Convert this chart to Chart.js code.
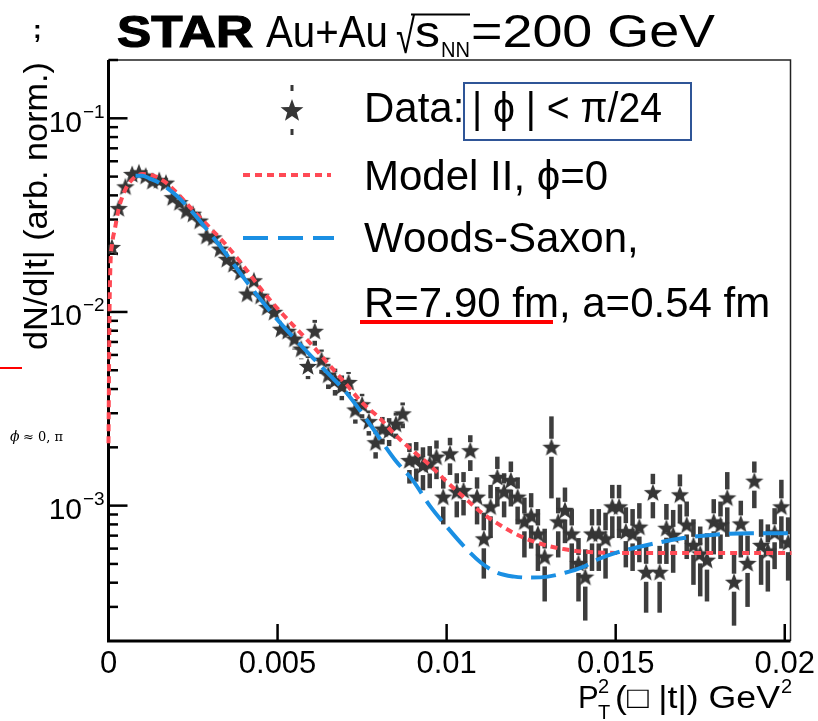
<!DOCTYPE html>
<html>
<head>
<meta charset="utf-8">
<script src="https://cdn.jsdelivr.net/npm/chart.js@4.4.1/dist/chart.umd.min.js"></script>
<style>
html,body{margin:0;padding:0;background:#fff;overflow:hidden}
#wrap{position:relative;width:818px;height:721px}
canvas{display:block}
</style>
</head>
<body>
<div id="wrap"><canvas id="c" width="818" height="721"></canvas></div>
<script>
// ---- data ----
const ptSquared = [
0.0001,0.0003,0.0005,0.0007,0.0009,0.0011,0.0013,0.0015,0.0017,0.0019,
0.0021,0.0023,0.0025,0.0027,0.0029,0.0031,0.0033,0.0035,0.0037,0.0039,
0.0041,0.0043,0.0045,0.0047,0.0049,0.0051,0.0053,0.0055,0.0057,0.0059,
0.0061,0.0063,0.0065,0.0067,0.0069,0.0071,0.0073,0.0075,0.0077,0.0079,
0.0081,0.0083,0.0085,0.0087,0.0089,0.0091,0.0093,0.0095,0.0097,0.0099,
0.0101,0.0103,0.0105,0.0107,0.0109,0.0111,0.0113,0.0115,0.0117,0.0119,
0.0121,0.0123,0.0125,0.0127,0.0129,0.0131,0.0133,0.0135,0.0137,0.0139,
0.0141,0.0143,0.0145,0.0147,0.0149,0.0151,0.0153,0.0155,0.0157,0.0159,
0.0161,0.0163,0.0165,0.0167,0.0169,0.0171,0.0173,0.0175,0.0177,0.0179,
0.0181,0.0183,0.0185,0.0187,0.0189,0.0191,0.0193,0.0195,0.0197,0.0199,
0.0201];
const dNdt = [
0.0214,0.034,0.044,0.051,0.052,0.050,0.047,0.0475,0.046,0.0387,
0.0365,0.033,0.0318,0.0293,0.0245,0.024,0.021,0.0186,0.0175,0.0159,
0.0123,0.0144,0.012,0.0105,0.0099,0.0081,0.0079,0.0072,0.0064,0.0052,
0.0079,0.0056,0.0047,0.0044,0.0041,0.0043,0.0031,0.0033,0.0027,0.0021,
0.00247,0.00243,0.00262,0.00296,0.0017,0.00173,0.0016,0.00163,0.00177,0.0011,
0.00184,0.00117,0.00119,0.00191,0.0011,0.00067,0.00098,0.00139,0.00117,0.00134,
0.0011,0.00082,0.00088,0.00071,0.00054,0.00199,0.00082,0.00094,0.00071,0.0005,
0.000425,0.00071,0.00071,0.00067,0.00098,0.00098,0.00073,0.00071,0.00077,0.00045,
0.00116,0.00045,0.00076,0.0007,0.00113,0.00079,0.00062,0.00056,0.00052,0.00082,
0.00079,0.00109,0.0004,0.0008,0.0005,0.00133,0.00062,0.00058,0.00072,0.00098,
0.00064];
const dNdtErr = [
0.0008,0.001,0.0012,0.0013,0.0013,0.0013,0.0012,0.0012,0.0012,0.0011,
0.0011,0.001,0.001,0.001,0.0009,0.0009,0.0009,0.0008,0.0008,0.0008,
0.0008,0.0009,0.0008,0.0008,0.0008,0.0008,0.0008,0.0008,0.0007,0.0007,
0.0012,0.0008,0.0007,0.0007,0.0006,0.0006,0.00045,0.00048,0.0004,0.00035,
0.0004,0.0004,0.0004,0.00045,0.0004,0.0004,0.0004,0.0004,0.0004,0.0003,
0.0004,0.0003,0.0003,0.0004,0.0003,0.00025,0.0003,0.0004,0.0003,0.00035,
0.0003,0.00028,0.00028,0.00025,0.00022,0.0009,0.00028,0.0003,0.00025,0.00018,
0.00017,0.00025,0.00025,0.00025,0.0003,0.0003,0.00025,0.00025,0.00026,0.00017,
0.0003,0.00017,0.00026,0.00025,0.00032,0.00026,0.00023,0.00022,0.0002,0.00026,
0.00026,0.0004,0.00016,0.00026,0.0002,0.00036,0.00023,0.00022,0.00025,0.00038,
0.00023];
const modelIIx = [0,0.00003,0.00006,0.0001,0.0002,0.0003,0.0004,0.0005,0.0006,0.0008,0.001,0.0012,0.0014,0.0017,0.002,0.0025,0.003,0.0035,0.004,0.0045,0.005,0.0055,0.006,0.0065,0.007,0.0075,0.008,0.0085,0.009,0.0095,0.01,0.0105,0.011,0.0115,0.012,0.0125,0.013,0.0135,0.014,0.015,0.016,0.018,0.0202];
const modelIIy = [0.0021,0.010,0.018,0.022,0.0275,0.034,0.039,0.043,0.046,0.050,0.0515,0.0512,0.050,0.0465,0.0415,0.0335,0.0272,0.022,0.0172,0.0132,0.0104,0.0084,0.0068,0.0054,0.0043,0.0034,0.00285,0.0023,0.00192,0.00162,0.00133,0.00111,0.00093,0.00081,0.00072,0.00066,0.00062,0.000595,0.00058,0.00057,0.00057,0.00057,0.00057];
const woodsSaxonX = [0.0008,0.001,0.0012,0.0015,0.002,0.0025,0.003,0.0035,0.004,0.0045,0.005,0.0055,0.006,0.0065,0.007,0.0075,0.008,0.0085,0.009,0.0095,0.01,0.0105,0.011,0.0115,0.012,0.0125,0.013,0.0135,0.014,0.0145,0.015,0.016,0.017,0.018,0.019,0.0202];
const woodsSaxonY = [0.0505,0.0505,0.049,0.0465,0.040,0.0325,0.0255,0.0197,0.0150,0.0116,0.0091,0.0073,0.0059,0.0048,0.0039,0.0030,0.00225,0.0017,0.00135,0.00100,0.00078,0.00062,0.00051,0.00045,0.00043,0.000425,0.00043,0.00045,0.00048,0.00053,0.00057,0.00063,0.00068,0.00071,0.00072,0.00072];
const xTickValues = [0, 0.005, 0.01, 0.015, 0.02];
const xTickLabels = ['0', '0.005', '0.01', '0.015', '0.02'];
const yMajorTicks = [0.1, 0.01, 0.001];
const yTickExponents = ['\u22121', '\u22122', '\u22123'];
const yMinorTicks = [0.2,0.09,0.08,0.07,0.06,0.05,0.04,0.03,0.02,
  0.009,0.008,0.007,0.006,0.005,0.004,0.003,0.002,
  0.0009,0.0008,0.0007,0.0006,0.0005,0.0004,0.0003];

// ---- styles ----
const COL = {red:'#ff4a55', blue:'#1a8fe3', star:'#363636', err:'#3d3d3d'};
const FONT = "'Liberation Sans', Arial, sans-serif";

function makeStar(R, r, color){
  const s = Math.ceil(R*2+4);
  const c = document.createElement('canvas'); c.width = s; c.height = s;
  const g = c.getContext('2d'); g.fillStyle = color; g.beginPath();
  for (let k=0;k<10;k++){
    const rad = (k%2)? r : R; const a = -Math.PI/2 + k*Math.PI/5;
    const px = s/2 + rad*Math.cos(a), py = s/2 + rad*Math.sin(a);
    if (k) g.lineTo(px,py); else g.moveTo(px,py);
  }
  g.closePath(); g.fill(); return c;
}
const starImg = makeStar(9.6, 4.1, COL.star);
const starLegend = makeStar(12, 5, COL.star);

function fitText(ctx, s, x, y, font, width){
  ctx.font = font;
  const m = ctx.measureText(s).width;
  ctx.save(); ctx.translate(x, y);
  if (width) ctx.scale(width/m, 1);
  ctx.textAlign = 'left'; ctx.fillText(s, 0, 0); ctx.restore();
}

const frameAndErrors = {
  id: 'frameAndErrors',
  beforeDatasetsDraw(chart){
    const {ctx, chartArea:a, scales:{x, y}} = chart;
    ctx.save();
    // frame
    ctx.lineWidth = 1.5; ctx.strokeStyle = '#222';
    ctx.beginPath(); ctx.moveTo(a.left, a.top); ctx.lineTo(a.right, a.top); ctx.lineTo(a.right, a.bottom); ctx.stroke();
    ctx.strokeStyle = '#000'; ctx.lineWidth = 3;
    ctx.beginPath(); ctx.moveTo(a.left, a.top); ctx.lineTo(a.left, a.bottom); ctx.lineTo(a.right, a.bottom); ctx.stroke();
    // y ticks
    ctx.lineWidth = 2.5;
    yMajorTicks.forEach(v => { const py = y.getPixelForValue(v); ctx.beginPath(); ctx.moveTo(a.left, py); ctx.lineTo(a.left+19, py); ctx.stroke(); });
    yMinorTicks.forEach(v => { const py = y.getPixelForValue(v); ctx.beginPath(); ctx.moveTo(a.left, py); ctx.lineTo(a.left+9.5, py); ctx.stroke(); });
    // x ticks
    xTickValues.forEach(v => { const px = x.getPixelForValue(v); ctx.beginPath(); ctx.moveTo(px, a.bottom); ctx.lineTo(px, a.bottom-17); ctx.stroke(); });
    // error bars
    ctx.beginPath(); ctx.rect(a.left, a.top, a.right-a.left, a.bottom-a.top); ctx.clip();
    ctx.fillStyle = COL.err;
    const gap = 9, w = 4.5;
    ptSquared.forEach((xv, i) => {
      const px = x.getPixelForValue(xv), py = y.getPixelForValue(dNdt[i]);
      const top = y.getPixelForValue(dNdt[i] + dNdtErr[i]);
      const lo = dNdt[i] - dNdtErr[i];
      const bot = lo > 0 ? y.getPixelForValue(lo) : a.bottom;
      if (py - top > gap) ctx.fillRect(px - w/2, top, w, py - gap - top);
      if (bot - py > gap) ctx.fillRect(px - w/2, py + gap, w, bot - py - gap);
    });
    ctx.restore();
  }
};

const decor = {
  id: 'decor',
  afterDraw(chart){
    const {ctx, scales:{x, y}} = chart;
    ctx.save();
    ctx.fillStyle = '#000'; ctx.strokeStyle = '#000'; ctx.textBaseline = 'alphabetic';
    // x tick labels
    ctx.font = '31px ' + FONT; ctx.textAlign = 'center';
    xTickValues.forEach((v, i) => { ctx.fillText(xTickLabels[i], x.getPixelForValue(v), 673); });
    // y tick labels
    yMajorTicks.forEach((v, i) => {
      const py = y.getPixelForValue(v);
      ctx.font = '30px ' + FONT; ctx.textAlign = 'right'; ctx.fillText('10', 82, py + 13.5);
      ctx.font = '19px ' + FONT; ctx.textAlign = 'left'; ctx.fillText(yTickExponents[i], 83, py - 0.5);
    });
    // y axis title (rotated)
    ctx.save(); ctx.translate(47, 350); ctx.rotate(-Math.PI/2);
    fitText(ctx, 'dN/d|t| (arb. norm.)', 0, 0, '33px ' + FONT, 288);
    ctx.restore();
    // x axis title
    ctx.textAlign = 'left';
    fitText(ctx, 'P', 578, 708, '31px ' + FONT);
    fitText(ctx, 'T', 598, 719, '20px ' + FONT);
    fitText(ctx, '2', 598, 693, '20px ' + FONT);
    fitText(ctx, '(\u25A1 |t|) GeV', 615, 708, '31px ' + FONT, 165);
    fitText(ctx, '2', 781, 693, '20px ' + FONT);
    // title
    ctx.lineWidth = 1.2;
    ctx.font = 'bold 45px ' + FONT;
    (function(){ const s='STAR'; const m=ctx.measureText(s).width; ctx.save(); ctx.translate(117,47); ctx.scale(136/m,1); ctx.fillText(s,0,0); ctx.strokeText(s,0,0); ctx.restore(); })();
    fitText(ctx, 'Au+Au', 266, 47, '44px ' + FONT, 122);
    fitText(ctx, '\u221A', 396, 53, '48px ' + FONT, 19);
    ctx.lineWidth = 1.8; ctx.beginPath(); ctx.moveTo(411, 14.5); ctx.lineTo(470, 14.5); ctx.stroke();
    fitText(ctx, 's', 415, 47, '45px ' + FONT, 25);
    fitText(ctx, 'NN', 441, 57, '22px ' + FONT, 29);
    fitText(ctx, '=200 GeV', 471, 47, '46px ' + FONT, 244);
    // odd glyph top-left
    fitText(ctx, ';', 33, 38, 'bold 26px ' + FONT);
    // left annotations
    ctx.fillStyle = '#ff0000'; ctx.fillRect(0, 367, 22, 2);
    ctx.fillStyle = '#000';
    fitText(ctx, '\u03D5', 10, 441, "italic 14px 'DejaVu Serif', serif");
    fitText(ctx, '\u2248 0, \u03C0', 23, 441, "13px 'DejaVu Serif', serif", 40);
    // legend
    ctx.drawImage(starLegend, 292 - starLegend.width/2, 111 - starLegend.height/2);
    ctx.fillStyle = COL.star; ctx.fillRect(290.5, 85, 3, 6); ctx.fillRect(290.5, 129, 3, 6);
    ctx.fillStyle = '#000';
    fitText(ctx, 'Data:', 364, 122, '42px ' + FONT);
    ctx.strokeStyle = '#2f5597'; ctx.lineWidth = 2; ctx.strokeRect(464, 83, 227, 57);
    fitText(ctx, '| \u03D5 | < \u03C0/24', 472, 122, '42px ' + FONT, 190);
    ctx.lineWidth = 4; ctx.strokeStyle = COL.red; ctx.setLineDash([7,5]);
    ctx.beginPath(); ctx.moveTo(243, 175); ctx.lineTo(331, 175); ctx.stroke();
    ctx.strokeStyle = COL.blue; ctx.setLineDash([25,10]);
    ctx.beginPath(); ctx.moveTo(243, 238); ctx.lineTo(334, 238); ctx.stroke();
    ctx.setLineDash([]);
    fitText(ctx, 'Model II, \u03D5=0', 364, 190, '42px ' + FONT);
    fitText(ctx, 'Woods-Saxon,', 364, 252, '42px ' + FONT);
    fitText(ctx, 'R=7.90 fm, a=0.54 fm', 364, 317, '42px ' + FONT);
    ctx.fillStyle = '#ff0000'; ctx.fillRect(360, 320, 193, 4);
    ctx.restore();
  }
};

new Chart(document.getElementById('c').getContext('2d'), {
  type: 'scatter',
  data: {
    datasets: [
      { label: 'Data', data: ptSquared.map((v, i) => ({x: v, y: dNdt[i]})),
        pointStyle: starImg, showLine: false, order: 3 },
      { label: 'Model II', type: 'line', data: modelIIx.map((v, i) => ({x: v, y: modelIIy[i]})),
        borderColor: COL.red, borderWidth: 4, borderDash: [7, 5], pointRadius: 0, fill: false,
        cubicInterpolationMode: 'monotone', order: 2, clip: 4 },
      { label: 'Woods-Saxon', type: 'line', data: woodsSaxonX.map((v, i) => ({x: v, y: woodsSaxonY[i]})),
        borderColor: COL.blue, borderWidth: 4, borderDash: [25, 9], pointRadius: 0, fill: false,
        cubicInterpolationMode: 'monotone', order: 1 }
    ]
  },
  options: {
    responsive: false, animation: false, events: [],
    layout: { padding: { left: 108.5, top: 60, right: 27.5, bottom: 80 } },
    plugins: { legend: { display: false }, tooltip: { enabled: false }, title: { display: false } },
    scales: {
      x: { type: 'linear', min: 0, max: 0.02017, display: false },
      y: { type: 'logarithmic', min: 0.0002, max: 0.2, display: false }
    }
  },
  plugins: [frameAndErrors, decor]
});
</script>
</body>
</html>
